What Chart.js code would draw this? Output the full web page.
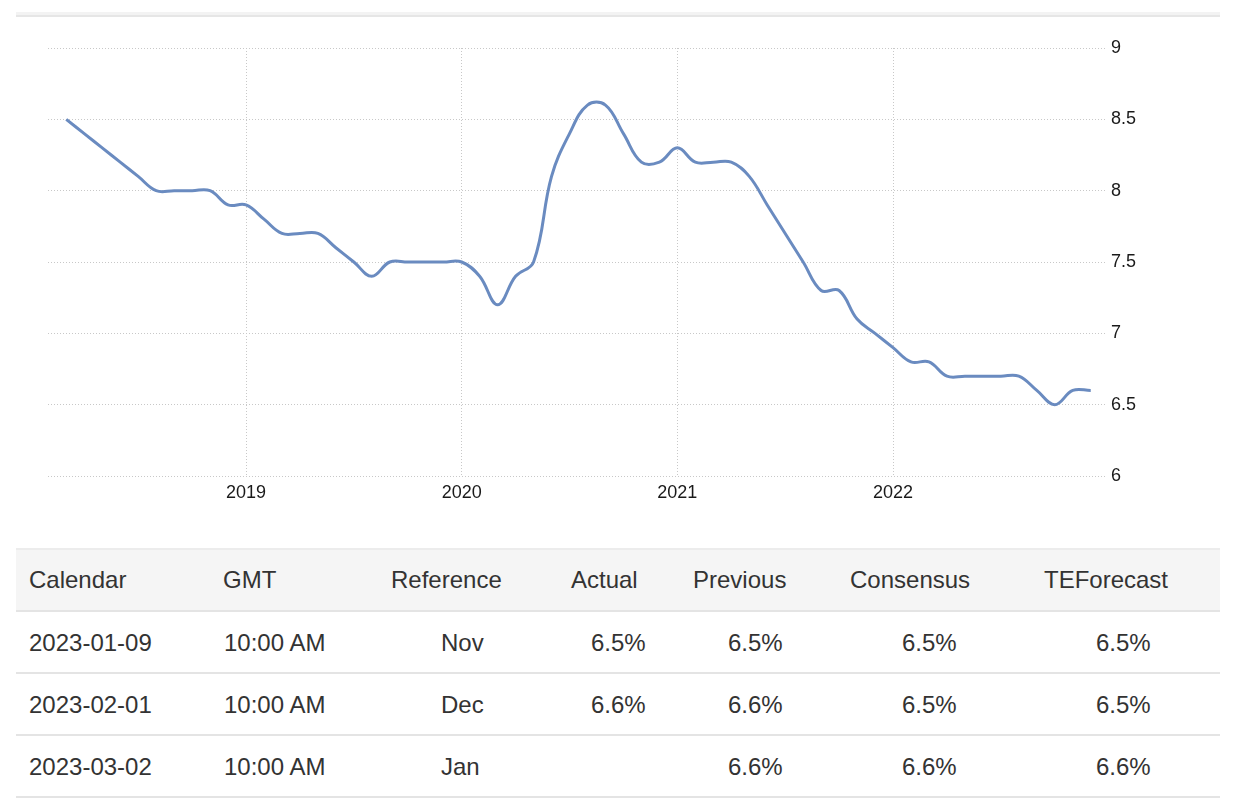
<!DOCTYPE html>
<html>
<head>
<meta charset="utf-8">
<script src="https://cdn.jsdelivr.net/npm/chart.js@4.4.0/dist/chart.umd.min.js"></script>
<style>
    body { margin: 0; background: #fff; width: 1234px; height: 806px; overflow: hidden; position: relative; font-family: 'Liberation Sans', Arial, sans-serif; }
    #topbar { position: absolute; left: 16px; top: 12px; width: 1204px; height: 3px; background: #f3f3f3; border-bottom: 2px solid #e6e6e6; }
    #wrap { position: absolute; left: 0; top: 0; width: 1234px; height: 530px; }
    #calendar { position: absolute; left: 16px; top: 548px; width: 1204px; color: #333; font-size: 24px; }
    .row { position: relative; height: 60px; border-bottom: 2px solid #e4e4e4; }
    .row.head { background: #f5f5f5; border-top: 2px solid #ececec; height: 60px; }
    .row span { position: absolute; top: 0; line-height: 62px; white-space: nowrap; }
    .row.head span { line-height: 60px; }
</style>
</head>
<body>
<div id="topbar"></div>
<div id="wrap"><canvas id="myChart" width="1234" height="530"></canvas></div>
<div id="calendar"></div>
<script>
// meses y tasas
var months = [
    '2018-03', '2018-04', '2018-05', '2018-06', '2018-07', '2018-08', '2018-09', '2018-10', '2018-11', '2018-12',
    '2019-01', '2019-02', '2019-03', '2019-04', '2019-05', '2019-06', '2019-07', '2019-08', '2019-09', '2019-10', '2019-11', '2019-12',
    '2020-01', '2020-02', '2020-03', '2020-04', '2020-05', '2020-06', '2020-07', '2020-08', '2020-09', '2020-10', '2020-11', '2020-12',
    '2021-01', '2021-02', '2021-03', '2021-04', '2021-05', '2021-06', '2021-07', '2021-08', '2021-09', '2021-10', '2021-11', '2021-12',
    '2022-01', '2022-02', '2022-03', '2022-04', '2022-05', '2022-06', '2022-07', '2022-08', '2022-09', '2022-10', '2022-11', '2022-12'
];
var rates = [
    8.5, 8.4, 8.3, 8.2, 8.1, 8.0, 8.0, 8.0, 8.0, 7.9,
    7.9, 7.8, 7.7, 7.7, 7.7, 7.6, 7.5, 7.4, 7.5, 7.5, 7.5, 7.5,
    7.5, 7.4, 7.2, 7.4, 7.5, 8.1, 8.4, 8.6, 8.6, 8.4, 8.2, 8.2,
    8.3, 8.2, 8.2, 8.2, 8.1, 7.9, 7.7, 7.5, 7.3, 7.3, 7.1, 7.0,
    6.9, 6.8, 6.8, 6.7, 6.7, 6.7, 6.7, 6.7, 6.6, 6.5, 6.6, 6.6
];
var yearTicks = [2019, 2020, 2021, 2022];
var yTicks = [6, 6.5, 7, 7.5, 8, 8.5, 9];

// tabla del calendario
var calHeaders = ['Calendar', 'GMT', 'Reference', 'Actual', 'Previous', 'Consensus', 'TEForecast'];
var calDates = ['2023-01-09', '2023-02-01', '2023-03-02'];
var calTimes = ['10:00 AM', '10:00 AM', '10:00 AM'];
var calRefs = ['Nov', 'Dec', 'Jan'];
var calActual = ['6.5%', '6.6%', ''];
var calPrevious = ['6.5%', '6.6%', '6.6%'];
var calConsensus = ['6.5%', '6.5%', '6.6%'];
var calForecast = ['6.5%', '6.5%', '6.6%'];

var headLeft = [13, 207, 375, 555, 677, 834, 1028];
var cellLeft = [13, 208, 425, 575, 712, 886, 1080];

function monthIndex(m) {
    var p = m.split('-');
    return (parseInt(p[0]) - 2018) * 12 + parseInt(p[1]) - 1;
}

function buildTable() {
    var box = document.getElementById('calendar');
    var html = '<div class="row head">';
    calHeaders.forEach(function (h, i) {
        html += '<span style="left:' + headLeft[i] + 'px">' + h + '</span>';
    });
    html += '</div>';
    calDates.forEach(function (d, r) {
        var cells = [d, calTimes[r], calRefs[r], calActual[r], calPrevious[r], calConsensus[r], calForecast[r]];
        html += '<div class="row">';
        cells.forEach(function (c, i) {
            html += '<span style="left:' + cellLeft[i] + 'px">' + c + '</span>';
        });
        html += '</div>';
    });
    box.innerHTML = html;
}

function createLineChart() {
    var points = months.map(function (m, i) {
        return { x: monthIndex(m), y: rates[i] };
    });
    var tickFont = { family: "'Liberation Sans', sans-serif", size: 18 };
    var ctx = document.getElementById('myChart').getContext('2d');
    new Chart(ctx, {
        type: 'line',
        data: {
            datasets: [{
                data: points,
                borderColor: '#6a8bc0',
                borderWidth: 3,
                pointRadius: 0,
                tension: 0.4,
                fill: false
            }]
        },
        options: {
            responsive: false,
            animation: false,
            layout: { padding: { left: 48, top: 48, right: 0, bottom: 0 } },
            plugins: { legend: { display: false }, tooltip: { enabled: false } },
            scales: {
                x: {
                    type: 'linear',
                    min: 0.983,
                    max: 59.85,
                    afterBuildTicks: function (scale) {
                        scale.ticks = yearTicks.map(function (y) { return { value: (y - 2018) * 12 }; });
                    },
                    afterFit: function (scale) { scale.height = 54; },
                    ticks: {
                        color: '#1a1a1a',
                        font: tickFont,
                        padding: 6,
                        maxRotation: 0,
                        callback: function (v) { return String(2018 + v / 12); }
                    },
                    grid: { color: '#c8c8c8', drawTicks: false },
                    border: { display: false, dash: [1, 2] }
                },
                y: {
                    position: 'right',
                    min: 6,
                    max: 9,
                    afterBuildTicks: function (scale) {
                        scale.ticks = yTicks.map(function (v) { return { value: v }; });
                    },
                    afterFit: function (scale) { scale.width = 128; },
                    ticks: {
                        color: '#1a1a1a',
                        font: tickFont,
                        padding: 5,
                        callback: function (v) { return String(v); }
                    },
                    grid: { color: '#c8c8c8', drawTicks: false },
                    border: { display: false, dash: [1, 2] }
                }
            }
        }
    });
}

buildTable();
createLineChart();
</script>
</body>
</html>
